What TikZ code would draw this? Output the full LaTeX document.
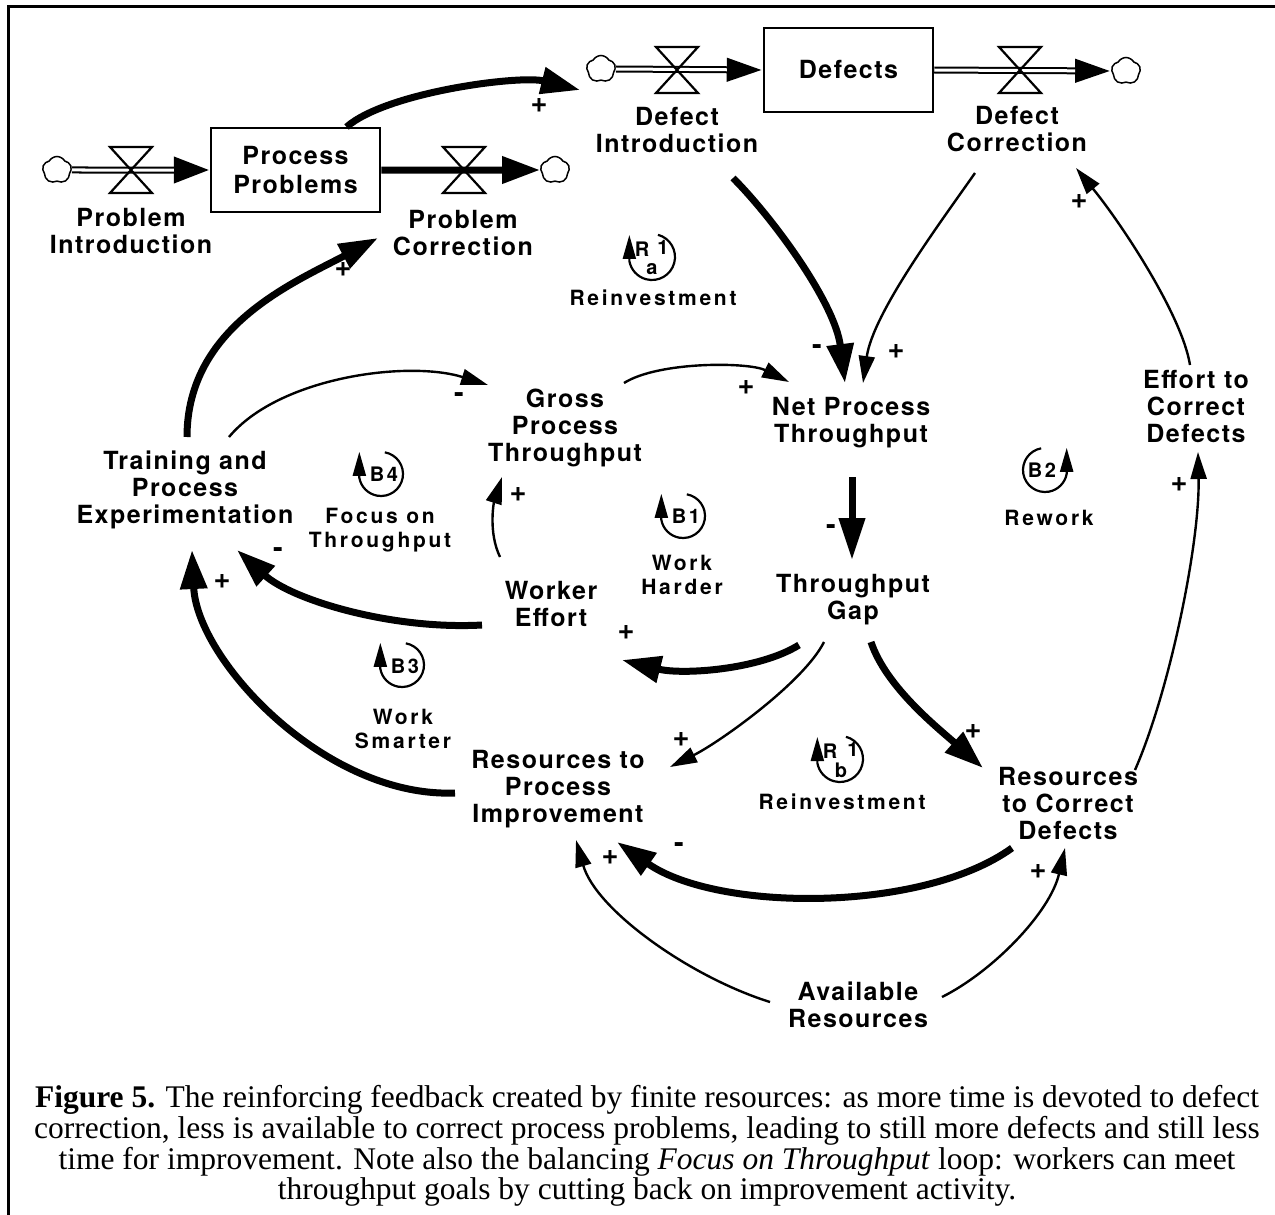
\documentclass[tikz,border=0pt]{standalone}
\usepackage{fontspec}
\setmainfont{Liberation Serif}
\newfontfamily\hvfont[LetterSpace=6]{TeX Gyre Heros}
\newfontfamily\hvloop[LetterSpace=13]{TeX Gyre Heros}
\newfontfamily\hvplain{TeX Gyre Heros}
\usetikzlibrary{arrows.meta,shapes.symbols,calc}
\begin{document}
\begin{tikzpicture}[x=1pt,y=-1pt,
  lab/.style={font={\hvfont\bfseries\fontsize{25}{27}\selectfont},align=center,inner sep=0pt},
  looplab/.style={font={\hvloop\bfseries\fontsize{21}{23.5}\selectfont},align=center,inner sep=0pt},
  looptag/.style={font={\hvloop\bfseries\fontsize{20}{20}\selectfont},inner sep=0pt},
  rtag/.style={font={\hvfont\bfseries\fontsize{20}{20}\selectfont},inner sep=0pt},
  sgn/.style={font={\hvplain\bfseries\fontsize{29}{29}\selectfont},inner sep=0pt},
  thk/.style={line width=7pt,-{Triangle[length=39pt,width=26pt]}},
  thn/.style={line width=2.4pt,-{Triangle[length=27pt,width=16pt]}},
  stock/.style={draw,line width=2.5pt,minimum width=169pt,minimum height=84pt,inner sep=0pt,
     font={\hvfont\bfseries\fontsize{25}{29}\selectfont},align=center},
  cloudn/.style={cloud,cloud puffs=5,cloud puff arc=120,aspect=1,draw,line width=1.5pt,fill=white,minimum width=29pt,minimum height=27pt,inner sep=0pt},
  loopar/.style={line width=2.2pt,-{Triangle[length=24pt,width=13pt]}},
  valve/.pic={\draw[line width=2.2pt,line join=miter] (-21,-23) -- (21,-23) -- (-21,23) -- (21,23) -- cycle;}
]
\useasboundingbox (0,0) rectangle (1275,1215);
% frame
\draw[line width=3pt] (8,1215) -- (8,7) -- (1275,7);

% stocks
\node[stock] (pbox) at (295.5,170) {Process\\Problems};
\node[stock] (dbox) at (848.5,70) {Defects};

% clouds
\node[cloudn] (pcl) at (57,170) {};
\node[cloudn] (pcl2) at (555,170) {};
\node[cloudn] (dcl) at (601,69) {};
\node[cloudn] (dcl2) at (1126,71) {};

% flows
\draw[line width=7pt,-{Triangle[length=36pt,width=25pt]}] (pcl.east) -- (pbox.west);
\draw[white,line width=3pt,shorten >=36pt] (pcl.east) -- (pbox.west);
\draw[line width=7pt,-{Triangle[length=38pt,width=26pt]}] (pbox.east) -- (pcl2.west);
\draw[line width=7pt,-{Triangle[length=36pt,width=22pt]}] (dcl.east) -- (dbox.west);
\draw[white,line width=3pt,shorten >=36pt] (dcl.east) -- (dbox.west);
\draw[line width=7pt,-{Triangle[length=36pt,width=22pt]}] (dbox.east) -- (dcl2.west);
\draw[white,line width=3pt,shorten >=36pt] (dbox.east) -- (dcl2.west);

% valves
\pic at (131,170) {valve};
\pic at (464,170) {valve};
\pic at (677,70) {valve};
\pic at (1020,70) {valve};

% variable labels
\node[lab] (probint) at (131,231) {Problem\\Introduction};
\node[lab] (probcor) at (463,233) {Problem\\Correction};
\node[lab] (defint) at (677,130) {Defect\\Introduction};
\node[lab] (defcor) at (1017,129) {Defect\\Correction};
\node[lab] (train) at (185,490) {Training and\\Process\\Experimentation};
\node[lab] (gross) at (565,428) {Gross\\Process\\Throughput};
\node[lab] (net) at (851,423) {Net Process\\Throughput};
\node[lab] (gap) at (853,600) {Throughput\\Gap};
\node[lab] (worker) at (551,604) {Worker\\Effort};
\node[lab] (effort) at (1196,406) {Effort to\\Correct\\Defects};
\node[lab] (rpi) at (558,789) {Resources to\\Process\\Improvement};
\node[lab] (rcd) at (1068,803) {Resources\\to Correct\\Defects};
\node[lab] (avail) at (858,1005) {Available\\Resources};

% connectors
\draw[thk] ($(pbox)+(51,-43)$) .. controls +(40,-35) and +(-60,-15) .. ($(defint)+(-97,-40)$);
\draw[thk] ($(train)+(2,-53)$) .. controls +(0,-110) and +(-85,45) .. ($(probcor)+(-85,5)$);
\draw[thn] ($(train)+(44,-53)$) .. controls +(50,-60) and +(-80,-25) .. ($(gross)+(-77,-43)$);
\draw[thn] ($(gross)+(59,-45)$) .. controls +(35,-22) and +(-40,-20) .. ($(net)+(-62,-41)$);
\draw[thk] ($(defint)+(56,48)$) .. controls +(40,40) and +(-10,-80) .. ($(net)+(-6,-40)$);
\draw[thn] ($(defcor)+(-42,44)$) .. controls +(-35,50) and +(10,-70) .. ($(net)+(12,-40)$);
\draw[thk,-{Triangle[length=42pt,width=25pt]}] ($(net)+(1,54)$) -- ($(gap)+(-1,-40)$);
\draw[thk] ($(gap)+(-54,45)$) .. controls +(-40,25) and +(60,15) .. ($(worker)+(71,56)$);
\draw[thn] ($(worker)+(-51,-47)$) .. controls +(-12,-25) and +(-8,25) .. ($(gross)+(-63,49)$);
\draw[thk] ($(worker)+(-69,21)$) .. controls +(-90,5) and +(55,50) .. ($(train)+(52,60)$);
\draw[thn] ($(gap)+(-29,42)$) .. controls +(-20,40) and +(50,-25) .. ($(rpi)+(112,-22)$);
\draw[thk] ($(gap)+(18,42)$) .. controls +(15,45) and +(-45,-40) .. ($(rcd)+(-85,-35)$);
\draw[thk] ($(rpi)+(-103,4)$) .. controls +(-130,5) and +(5,110) .. ($(train)+(7,60)$);
\draw[thk] ($(rcd)+(-56,45)$) .. controls +(-90,65) and +(100,70) .. ($(rpi)+(59,53)$);
\draw[thn] ($(avail)+(-88,-3)$) .. controls +(-80,-25) and +(20,70) .. ($(rpi)+(18,51)$);
\draw[thn] ($(avail)+(84,-8)$) .. controls +(50,-25) and +(-15,65) .. ($(rcd)+(-3,45)$);
\draw[thn] ($(rcd)+(67,-33)$) .. controls +(35,-80) and +(2,90) .. ($(effort)+(2,46)$);
\draw[thn] ($(effort)+(-6,-41)$) .. controls +(-8,-50) and +(45,55) .. ($(defcor)+(59,39)$);

% polarity signs
\node[sgn] (s1) at (539,106) {+};
\node[sgn] (s2) at (343,270) {+};
\node[sgn] (s3) at (459,398) {-};
\node[sgn] (s4) at (746,388) {+};
\node[sgn] (s5) at (817,350) {-};
\node[sgn] (s6) at (896,352) {+};
\node[sgn] (s7) at (831,530) {-};
\node[sgn] (s8) at (626,633) {+};
\node[sgn] (s9) at (518,495) {+};
\node[sgn] (s10) at (278,553) {-};
\node[sgn] (s11) at (681,740) {+};
\node[sgn] (s12) at (973,732) {+};
\node[sgn] (s13) at (222,582) {+};
\node[sgn] (s14) at (679,848) {-};
\node[sgn] (s15) at (610,858) {+};
\node[sgn] (s16) at (1038,872) {+};
\node[sgn] (s17) at (1179,485) {+};
\node[sgn] (s18) at (1079,202) {+};

% loop symbols
\coordinate (r1a) at (652,257);
\draw[loopar] ([shift={(75:23pt)}]r1a) arc[start angle=75,end angle=-170,radius=23pt] -- ++(0pt,26pt);
\node[rtag] at ($(r1a)+(-10,-8)$) {R};
\node[rtag] at ($(r1a)+(11,-10)$) {1};
\node[rtag] at ($(r1a)+(0,12)$) {a};
\node[looplab] (l1) at (653,298) {Reinvestment};

\coordinate (r1b) at (840,759);
\draw[loopar] ([shift={(75:23pt)}]r1b) arc[start angle=75,end angle=-170,radius=23pt] -- ++(0pt,26pt);
\node[rtag] at ($(r1b)+(-10,-8)$) {R};
\node[rtag] at ($(r1b)+(13,-10)$) {1};
\node[rtag] at ($(r1b)+(1,11)$) {b};
\node[looplab] (l2) at (842,802) {Reinvestment};

\coordinate (b4) at (381,474);
\draw[loopar] ([shift={(80:22pt)}]b4) arc[start angle=80,end angle=-170,radius=22pt] -- ++(0pt,26pt);
\node[looptag] at ($(b4)+(3,0)$) {B4};
\node[looplab] (l3) at (380,530) {Focus on\\Throughput};

\coordinate (b1) at (683,516);
\draw[loopar] ([shift={(80:22pt)}]b1) arc[start angle=80,end angle=-170,radius=22pt] -- ++(0pt,26pt);
\node[looptag] at ($(b1)+(3,0)$) {B1};
\node[looplab] (l4) at (682,575) {Work\\Harder};

\coordinate (b3) at (402,665);
\draw[loopar] ([shift={(80:22pt)}]b3) arc[start angle=80,end angle=-170,radius=22pt] -- ++(0pt,26pt);
\node[looptag] at ($(b3)+(3,1)$) {B3};
\node[looplab] (l5) at (403,729) {Work\\Smarter};

\coordinate (b2) at (1045,470);
\draw[loopar] ([shift={(100:22pt)}]b2) arc[start angle=100,end angle=350,radius=22pt] -- ++(0pt,26pt);
\node[looptag] at ($(b2)+(-3,0)$) {B2};
\node[looplab] (l6) at (1049,518) {Rework};

% caption
\node[font={\fontsize{31.5}{30.8}\selectfont},align=center,inner sep=0pt] (cap) at (647,1146)
 {\textbf{Figure 5.} The reinforcing feedback created by finite resources:  as more time is devoted to defect\\
  correction, less is available to correct process problems, leading to still more defects and still less\\
  time for improvement.  Note also the balancing \textit{Focus on Throughput} loop: workers can meet\\
  throughput goals by cutting back on improvement activity.};
\end{tikzpicture}
\end{document}
